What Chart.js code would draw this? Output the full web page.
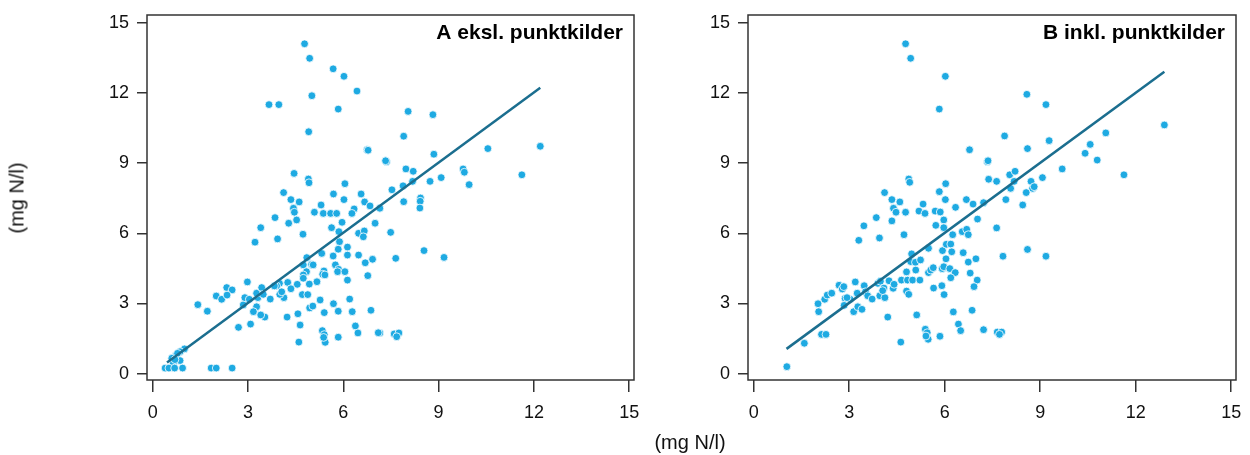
<!DOCTYPE html>
<html>
<head>
<meta charset="utf-8">
<script src="https://cdn.jsdelivr.net/npm/chart.js@4"></script>
<style>
  body { margin: 0; background: #fff; }
  #wrap { position: relative; width: 1250px; height: 455px; font-family: "Liberation Sans", Arial, sans-serif; color: #111; }
  canvas { position: absolute; top: 0; }
  #chartA { left: 0; }
  #chartB { left: 640px; }
  .axisTitle { position: absolute; font-size: 20px; white-space: nowrap; }
  #yTitle { left: 17px; top: 198px; transform: translate(-50%, -50%) rotate(-90deg); }
  #xTitle { left: 690px; top: 442px; transform: translate(-50%, -50%); }
</style>
</head>
<body>
<div id="wrap">
  <canvas id="chartA" width="640" height="455"></canvas>
  <canvas id="chartB" width="610" height="455"></canvas>
  <div class="axisTitle" id="yTitle">(mg N/l)</div>
  <div class="axisTitle" id="xTitle">(mg N/l)</div>
</div>
<script>
// Axis ticks shared by both panels
const tickValues = [0, 3, 6, 9, 12, 15];

// Panel A: excluding point sources
const titleA = 'A eksl. punktkilder';
const aX = [4.78, 4.94, 5.68, 6.02, 6.43, 5.01, 3.66, 3.97, 5.84, 4.91, 6.75, 6.78, 7.36, 7.33, 4.45, 4.9, 4.92, 6.05, 4.12, 5.69,
  6.56, 4.35, 4.61, 6.02, 6.67, 5.3, 4.43, 6.84, 7.15, 6.34, 8.04, 8.82, 7.9, 12.2, 10.55, 8.85, 7.97, 8.2, 9.77, 9.81,
  9.08, 8.73, 8.18, 9.96, 11.62, 7.88, 7.53, 7.9, 8.43, 8.42, 8.41, 7.49, 8.54, 7.65, 9.17, 7.15, 7.6, 7.75, 7.68, 4.46,
  5.09, 5.37, 5.6, 5.79, 6.27, 3.85, 4.28, 4.53, 3.4, 3.22, 3.93, 4.73, 5.63, 5.96, 5.86, 6.48, 6.66, 6.63, 7.0, 5.88,
  5.32, 4.85, 5.68, 5.84, 6.13, 6.13, 6.48, 6.69, 6.92, 4.74, 5.0, 5.05, 4.84, 4.74, 5.75, 5.85, 5.82, 5.39, 5.35, 5.42,
  6.05, 6.13, 6.77, 5.17, 4.93, 4.74, 4.55, 4.25, 4.35, 4.13, 3.99, 3.9, 4.0, 4.06, 3.83, 4.71, 4.88, 4.57, 4.64, 4.6,
  4.94, 5.04, 5.27, 5.4, 5.69, 5.84, 6.2, 6.28, 6.38, 6.46, 6.87, 7.1, 5.34, 5.4, 5.43, 5.38, 5.84, 4.23, 3.53, 3.4,
  3.27, 3.17, 3.08, 2.7, 2.98, 2.85, 2.9, 3.04, 3.31, 3.27, 3.43, 3.48, 3.7, 2.33, 2.5, 2.0, 2.17, 2.34, 1.42, 1.72,
  1.0, 0.86, 0.72, 0.6, 0.86, 0.65, 0.78, 0.7, 0.39, 0.51, 0.69, 0.94, 1.84, 2.0, 2.5];
const aY = [14.1, 13.48, 13.03, 12.71, 12.08, 11.88, 11.5, 11.5, 11.31, 10.34, 9.57, 9.55, 9.06, 9.1, 8.56, 8.32, 8.16, 8.12, 7.74, 7.68,
  7.68, 7.44, 7.34, 7.44, 7.34, 7.21, 7.07, 7.17, 7.07, 7.04, 11.21, 11.07, 10.15, 9.72, 9.62, 9.38, 8.75, 8.65, 8.75, 8.61,
  8.38, 8.22, 8.22, 8.08, 8.5, 8.03, 7.86, 7.35, 7.51, 7.37, 7.08, 6.04, 5.26, 4.93, 4.97, 1.74, 1.7, 1.74, 1.58, 6.9,
  6.9, 6.85, 6.85, 6.85, 6.85, 6.67, 6.43, 6.57, 6.24, 5.62, 5.76, 5.96, 6.24, 6.47, 6.07, 6.0, 6.1, 5.85, 6.43, 5.64,
  5.14, 4.96, 5.03, 5.32, 5.41, 5.07, 5.07, 4.74, 4.89, 4.65, 4.67, 4.65, 4.36, 4.22, 4.65, 4.46, 4.36, 4.39, 4.25, 4.22,
  4.36, 4.0, 4.19, 3.93, 3.83, 4.08, 3.82, 3.9, 3.63, 3.25, 3.86, 3.75, 3.39, 3.5, 3.75, 3.38, 3.38, 2.56, 2.08, 1.35,
  2.81, 2.89, 3.15, 2.61, 2.99, 2.67, 3.19, 2.65, 2.04, 1.74, 2.71, 1.75, 1.84, 1.67, 1.34, 1.55, 1.56, 2.42, 2.42, 2.51,
  2.86, 2.65, 2.12, 1.98, 3.92, 2.94, 3.25, 3.18, 3.25, 3.44, 3.68, 3.39, 3.19, 3.68, 3.58, 3.32, 3.18, 3.36, 2.95, 2.67,
  1.06, 0.94, 0.77, 0.66, 0.56, 0.44, 0.87, 0.6, 0.24, 0.24, 0.24, 0.24, 0.24, 0.24, 0.24];
const fitAX = [0.45, 12.2];
const fitAY = [0.48, 12.22];

// Panel B: including point sources
const titleB = 'B inkl. punktkilder';
const bX = [4.77, 4.93, 6.02, 5.83, 6.78, 7.34, 7.36, 7.38, 4.87, 4.9, 6.03, 4.11, 5.83, 4.34, 4.59, 6.02, 5.32, 6.68, 6.89, 7.22,
  6.34, 4.39, 8.58, 9.18, 7.88, 12.9, 11.06, 9.28, 8.6, 10.57, 10.41, 10.79, 9.69, 11.63, 8.04, 8.21, 7.63, 8.18, 8.71, 9.07,
  8.07, 8.76, 8.81, 8.56, 7.92, 8.45, 7.63, 8.6, 7.83, 9.18, 7.22, 7.65, 7.79, 7.72, 1.04, 1.59, 2.13, 2.27, 2.04, 2.02,
  2.23, 2.31, 2.45, 2.68, 2.78, 2.83, 2.87, 3.03, 2.93, 2.84, 3.14, 3.27, 3.4, 3.19, 3.25, 3.47, 3.51, 3.58, 3.72, 3.46,
  3.3, 3.85, 3.95, 3.9, 3.98, 3.96, 4.12, 4.09, 4.05, 4.21, 4.25, 4.38, 4.41, 4.34, 4.47, 4.77, 4.72, 4.64, 4.83, 4.99,
  4.8, 4.8, 4.87, 4.96, 4.93, 5.08, 5.09, 5.24, 5.22, 5.12, 4.62, 5.19, 5.38, 5.7, 5.86, 5.97, 5.97, 5.72, 6.25, 5.49,
  5.49, 5.56, 5.64, 5.65, 5.91, 5.98, 5.93, 6.05, 6.19, 6.22, 6.04, 5.92, 5.97, 6.16, 6.33, 6.19, 6.58, 6.74, 6.8, 6.98,
  7.02, 6.92, 6.55, 6.69, 6.74, 7.03, 6.27, 6.43, 6.5, 6.86, 5.39, 5.45, 5.48, 5.41, 5.85];
const bY = [14.1, 13.48, 12.71, 11.31, 9.57, 9.06, 9.1, 8.31, 8.32, 8.18, 8.12, 7.74, 7.78, 7.44, 7.34, 7.44, 7.25, 7.44, 7.25, 7.31,
  7.11, 7.07, 11.94, 11.5, 10.16, 10.63, 10.29, 9.96, 9.62, 9.8, 9.42, 9.13, 8.75, 8.5, 8.5, 8.65, 8.22, 8.22, 8.22, 8.38,
  7.92, 7.92, 7.99, 7.74, 7.44, 7.21, 6.23, 5.31, 5.02, 5.02, 1.88, 1.78, 1.78, 1.68, 0.3, 1.3, 1.68, 1.68, 2.65, 2.99,
  3.18, 3.36, 3.44, 3.78, 3.62, 3.72, 3.22, 3.18, 3.25, 2.92, 2.65, 2.86, 2.75, 3.92, 3.44, 3.76, 3.5, 3.33, 3.19, 6.32,
  5.7, 6.67, 5.8, 3.86, 3.95, 3.33, 3.25, 3.66, 3.55, 2.42, 3.97, 3.65, 3.82, 6.53, 6.9, 6.9, 5.94, 4.0, 4.0, 4.0,
  4.35, 3.53, 3.39, 5.12, 4.79, 4.76, 4.43, 4.86, 4.0, 2.51, 1.35, 6.95, 6.85, 6.95, 6.91, 6.57, 6.24, 6.34, 5.94, 5.36,
  4.32, 4.43, 4.53, 3.66, 3.76, 3.38, 5.26, 5.53, 5.54, 5.21, 4.91, 4.49, 4.57, 4.49, 4.32, 4.1, 5.17, 4.77, 4.3, 4.91,
  4.0, 3.72, 6.07, 6.17, 5.94, 6.61, 2.64, 2.12, 1.84, 2.71, 1.9, 1.75, 1.47, 1.61, 1.6];
const fitBX = [1.03, 12.9];
const fitBY = [1.06, 12.9];

const FONT = '"Liberation Sans", Arial, sans-serif';
const dotColor = '#1eaae2';
const lineColor = '#1b6e8f';

const toPoints = (xs, ys) => xs.map((x, i) => ({ x: x, y: ys[i] }));

// box around the plot area plus the panel label in the top right corner
const panelDecor = {
  id: 'panelDecor',
  afterDraw(chart, args, opts) {
    const { ctx, chartArea } = chart;
    ctx.save();
    ctx.strokeStyle = '#333';
    ctx.lineWidth = 1.5;
    ctx.strokeRect(chartArea.left, chartArea.top, chartArea.right - chartArea.left, chartArea.bottom - chartArea.top);
    ctx.fillStyle = '#000';
    ctx.font = 'bold 21px ' + FONT;
    ctx.textAlign = 'right';
    ctx.textBaseline = 'alphabetic';
    ctx.fillText(opts.label, chartArea.right - 11, chartArea.top + 23.5);
    ctx.restore();
  }
};

function makePanel(id, xs, ys, fx, fy, label, axisWidth, padRight) {
  return new Chart(document.getElementById(id), {
    type: 'scatter',
    data: {
      datasets: [{
        type: 'line',
        data: toPoints(fx, fy),
        borderColor: lineColor,
        borderWidth: 2.5,
        pointRadius: 0,
        fill: false,
        order: 0
      }, {
        data: toPoints(xs, ys),
        backgroundColor: dotColor,
        borderColor: '#fff',
        borderWidth: 0.8,
        pointRadius: 3.9,
        order: 1
      }]
    },
    options: {
      responsive: false,
      animation: false,
      layout: { padding: { top: 15, right: padRight, left: 0, bottom: 0 } },
      plugins: {
        legend: { display: false },
        tooltip: { enabled: false },
        panelDecor: { label: label }
      },
      scales: {
        x: {
          type: 'linear',
          min: -0.18,
          max: 15.15,
          afterBuildTicks: s => { s.ticks = tickValues.map(v => ({ value: v })); },
          afterFit: s => { s.height = 75; s.paddingLeft = 0; s.paddingRight = 0; },
          grid: { drawOnChartArea: false, drawTicks: true, tickLength: 12, color: '#333', lineWidth: 1.5 },
          border: { display: false },
          ticks: { color: '#111', font: { family: FONT, size: 18 }, padding: 10, maxRotation: 0 }
        },
        y: {
          type: 'linear',
          min: -0.27,
          max: 15.33,
          afterBuildTicks: s => { s.ticks = tickValues.map(v => ({ value: v })); },
          afterFit: s => { s.width = axisWidth; s.paddingTop = 0; s.paddingBottom = 0; },
          grid: { drawOnChartArea: false, drawTicks: true, tickLength: 10, color: '#333', lineWidth: 1.5 },
          border: { display: false },
          ticks: { color: '#111', font: { family: FONT, size: 18 }, padding: 8 }
        }
      }
    },
    plugins: [panelDecor]
  });
}

makePanel('chartA', aX, aY, fitAX, fitAY, titleA, 147, 6);
makePanel('chartB', bX, bY, fitBX, fitBY, titleB, 108, 14);
</script>
</body>
</html>
